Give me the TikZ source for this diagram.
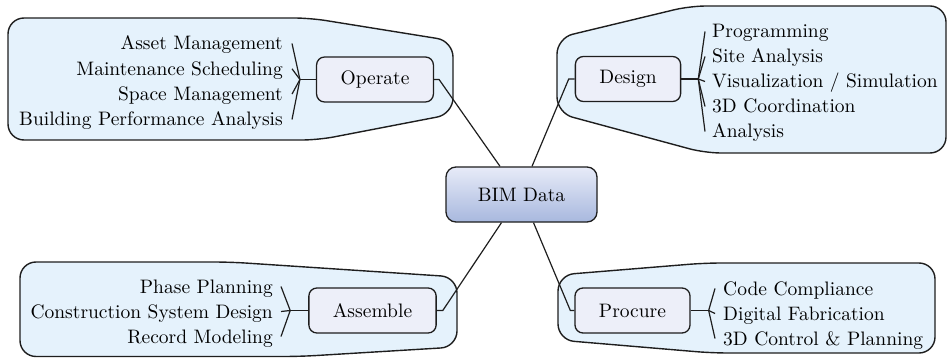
\documentclass[tikz,border=0pt]{standalone}
\usepackage{fontspec}
\setmainfont{lmroman10-regular.otf}

\definecolor{blobfill}{RGB}{229,242,252}
\definecolor{boxfill}{RGB}{237,239,249}
\definecolor{bimtop}{RGB}{231,235,248}
\definecolor{bimbot}{RGB}{168,184,222}
\definecolor{edge}{RGB}{30,30,30}

\begin{document}
\begin{tikzpicture}[x = 1pt, y = -1pt,
  blob/.style = {draw = edge, line width = 1.4pt, fill = blobfill, rounded corners = 16pt},
  stage/.style = {draw = edge, line width = 1.3pt, fill = boxfill, rounded corners = 8pt,
    inner xsep = 24pt, minimum height = 45pt, font = \fontsize{19.5}{25}\selectfont},
  item/.style = {inner sep = 0pt, text height = 13pt, text depth = 0pt,
    font = \fontsize{19.5}{25}\selectfont},
  link/.style = {draw = edge, line width = 1.2pt}]

\useasboundingbox (0, 0) rectangle (949, 358);

% grouping shapes
\draw[blob] (8, 18) -- (310, 18) -- (453, 41) -- (453, 114) -- (318, 140) -- (8, 140) -- cycle;
\draw[blob] (557, 38) -- (690, 6) -- (946, 6) -- (946, 153) -- (705, 153) -- (557, 113) -- cycle;
\draw[blob] (558, 275) -- (705, 263) -- (935, 263) -- (935, 353) -- (712, 353) -- (558, 340) -- cycle;
\draw[blob] (20, 262) -- (230, 262) -- (457, 277) -- (457, 347) -- (300, 356.5) -- (20, 356.5) -- cycle;

% centre and stages
\node[draw = edge, line width = 1.3pt, rounded corners = 10pt, top color = bimtop, bottom color = bimbot,
  minimum width = 151pt, minimum height = 55pt, font = \fontsize{19.5}{25}\selectfont]
  (bim) at (521.5, 194.5) {BIM Data};
\node[stage] (operate) at (375, 79.5) {Operate};
\node[stage] (design) at (628, 79) {Design};
\node[stage] (procure) at (632.5, 310.5) {Procure};
\node[stage] (assemble) at (372.5, 310.5) {Assemble};

% items
\node[item, anchor = base east] (op1) at (283, 50) {Asset Management};
\node[item, anchor = base east] (op2) at (283, 75.3) {Maintenance Scheduling};
\node[item, anchor = base east] (op3) at (283, 100.6) {Space Management};
\node[item, anchor = base east] (op4) at (283, 126) {Building Performance Analysis};

\node[item, anchor = base west] (de1) at (712, 38) {Programming};
\node[item, anchor = base west] (de2) at (712, 63) {Site Analysis};
\node[item, anchor = base west] (de3) at (712, 88) {Visualization / Simulation};
\node[item, anchor = base west] (de4) at (712, 113) {3D Coordination};
\node[item, anchor = base west] (de5) at (712, 138) {Analysis};

\node[item, anchor = base west] (pr1) at (723, 295) {Code Compliance};
\node[item, anchor = base west] (pr2) at (723, 320) {Digital Fabrication};
\node[item, anchor = base west] (pr3) at (723, 345) {3D Control \& Planning};

\node[item, anchor = base east] (as1) at (273, 293) {Phase Planning};
\node[item, anchor = base east] (as2) at (273, 318) {Construction System Design};
\node[item, anchor = base east] (as3) at (273, 343) {Record Modeling};

% junctions
\coordinate (opj) at ([xshift = -16pt]operate.west);
\coordinate (dej) at ([xshift = 17pt]design.east);
\coordinate (prj) at ([xshift = 18pt]procure.east);
\coordinate (asj) at ([xshift = -18pt]assemble.west);

% stages to centre
\draw[link] (operate.east) -- ++(5, 0) -- ([xshift = -21.5pt]bim.north);
\draw[link] (design.west) -- ++(-6, 0) -- ([xshift = 10.5pt]bim.north);
\draw[link] (assemble.east) -- ++(6, 0) -- ([xshift = -20pt]bim.south);
\draw[link] (procure.west) -- ++(-4, 0) -- ([xshift = 12pt]bim.south);

% fans
\draw[link] (operate.west) -- (opj);
\foreach \n in {op1, op2, op3, op4}
  \draw[link] ([xshift = 9pt]\n.east) -- (opj);
\draw[link] (design.east) -- (dej);
\foreach \n in {de1, de2, de3, de4, de5}
  \draw[link] ([xshift = -7pt]\n.west) -- (dej);
\draw[link] (procure.east) -- (prj);
\foreach \n in {pr1, pr2, pr3}
  \draw[link] ([xshift = -8pt]\n.west) -- (prj);
\draw[link] (assemble.west) -- (asj);
\foreach \n in {as1, as2, as3}
  \draw[link] ([xshift = 8pt]\n.east) -- (asj);

\end{tikzpicture}
\end{document}
